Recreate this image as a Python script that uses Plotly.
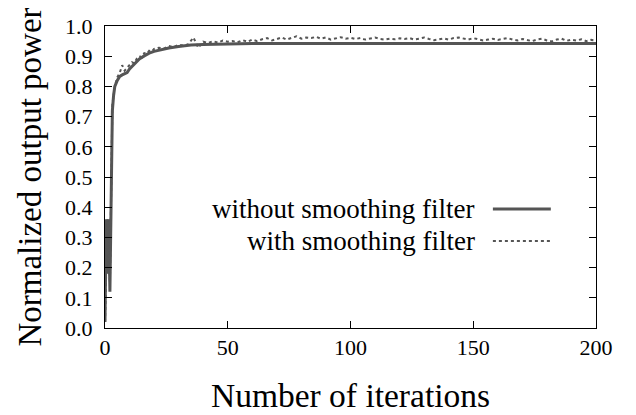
import plotly.graph_objects as go

# ---- data ----
iter_solid = [0, 0.5, 1, 1.5, 2, 3, 3.5, 4, 5, 6, 7, 8, 9, 10, 11, 12, 13, 14, 16, 18,
              20, 23, 26, 30, 35, 40, 50, 60, 80, 100, 120, 140, 160, 180, 200]
power_solid = [0.02, 0.36, 0.18, 0.36, 0.12, 0.72, 0.77, 0.80, 0.82, 0.833, 0.838, 0.842,
               0.846, 0.858, 0.867, 0.876, 0.884, 0.891, 0.901, 0.910,
               0.916, 0.922, 0.927, 0.932, 0.937, 0.939, 0.941, 0.942, 0.942, 0.942,
               0.942, 0.942, 0.942, 0.942, 0.942]

iter_smooth = [0, 1, 2, 3, 4, 5, 6, 7, 8, 9, 10, 11, 12, 13, 14, 15, 16, 17, 18, 19, 20,
               22, 24, 26, 28, 30, 32, 34, 36, 38, 40, 42, 44, 46, 48, 50,
               52, 54, 56, 58, 60, 62, 64, 66, 68, 70, 72, 74, 76, 78, 80,
               82, 84, 86, 88, 90, 92, 94, 96, 98, 100, 102, 104, 106, 108, 110,
               112, 114, 116, 118, 120, 122, 124, 126, 128, 130, 132, 134, 136, 138, 140,
               142, 144, 146, 148, 150, 152, 154, 156, 158, 160, 162, 164, 166, 168, 170,
               172, 174, 176, 178, 180, 182, 184, 186, 188, 190, 192, 194, 196, 198, 200]
power_smooth = [0.02, 0.36, 0.15, 0.74, 0.80, 0.83, 0.845, 0.87, 0.852, 0.862, 0.872,
                0.88, 0.876, 0.893, 0.90, 0.896, 0.91, 0.908, 0.918, 0.915, 0.924,
                0.928, 0.925, 0.934, 0.93, 0.938, 0.935, 0.94, 0.962, 0.928, 0.948,
                0.944, 0.95, 0.945, 0.952, 0.948,
                0.95, 0.946, 0.953, 0.948, 0.955, 0.95, 0.956, 0.96, 0.952, 0.958,
                0.962, 0.955, 0.96, 0.966, 0.958,
                0.962, 0.96, 0.964, 0.958, 0.962, 0.955, 0.96, 0.963, 0.958, 0.961,
                0.957, 0.96, 0.955, 0.958, 0.962,
                0.957, 0.955, 0.958, 0.956, 0.959, 0.957, 0.96, 0.955, 0.958, 0.962,
                0.957, 0.953, 0.956, 0.959, 0.955,
                0.96, 0.962, 0.958, 0.955, 0.96, 0.957, 0.952, 0.955, 0.958, 0.954,
                0.957, 0.96, 0.955, 0.952, 0.957,
                0.954, 0.95, 0.955, 0.958, 0.952, 0.949, 0.955, 0.958, 0.951, 0.955,
                0.952, 0.956, 0.95, 0.954, 0.952]

x_ticks = [0, 50, 100, 150, 200]
y_ticks = [0.0, 0.1, 0.2, 0.3, 0.4, 0.5, 0.6, 0.7, 0.8, 0.9, 1.0]
series_names = ["without smoothing filter", "with smoothing filter"]

FONT = "'Liberation Serif', 'Times New Roman', Times, serif"
GRAY = "#555555"

fig = go.Figure()
fig.add_trace(go.Scatter(x=iter_solid, y=power_solid, mode="lines", name=series_names[0],
                         line=dict(color=GRAY, width=3), showlegend=False))
fig.add_trace(go.Scatter(x=iter_smooth, y=power_smooth, mode="lines", name=series_names[1],
                         line=dict(color=GRAY, width=2, dash="dot"), showlegend=False))

# gnuplot-style legend: text on the left, line sample on the right
leg_y = [0.394, 0.288]
leg_dash = ["solid", "dot"]
leg_w = [3, 2]
for name, yy, dsh, w in zip(series_names, leg_y, leg_dash, leg_w):
    fig.add_annotation(x=0.758, y=yy, xref="paper", yref="paper", text=name,
                       showarrow=False, xanchor="right", yanchor="middle",
                       font=dict(family=FONT, size=27, color="black"))
    fig.add_shape(type="line", xref="paper", yref="paper", x0=0.79, x1=0.908,
                  y0=yy, y1=yy, line=dict(color=GRAY, width=w, dash=dsh))

axis_common = dict(showline=True, linecolor="black", linewidth=1, mirror="ticks",
                   ticks="inside", ticklen=7, tickcolor="black", tickwidth=1,
                   showgrid=False, zeroline=False, automargin=False,
                   tickfont=dict(family=FONT, size=22, color="black"))

fig.update_xaxes(range=[0, 200], tickvals=x_ticks, ticktext=[str(t) for t in x_ticks],
                 title=dict(text="Number of iterations", font=dict(family=FONT, size=33.5, color="black"),
                            standoff=24),
                 **axis_common)
fig.update_yaxes(range=[0, 1], tickvals=y_ticks, ticktext=[f"{t:.1f}" for t in y_ticks],
                 ticklabelstandoff=7,
                 title=dict(text="Normalized output power", font=dict(family=FONT, size=33, color="black"),
                            standoff=13),
                 **axis_common)

# the page body adds an 8 px offset, so the figure is 8 px smaller than the window
fig.update_layout(width=628, height=407, margin=dict(l=97, r=40, t=18, b=87),
                  plot_bgcolor="white", paper_bgcolor="white",
                  font=dict(family=FONT, color="black"))

fig.write_html("out.html")
